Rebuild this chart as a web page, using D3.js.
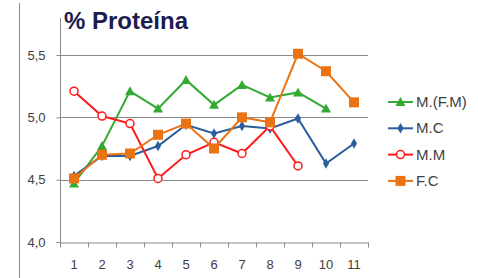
<!DOCTYPE html>
<html>
<head>
<meta charset="utf-8">
<script src="https://cdn.jsdelivr.net/npm/d3@7"></script>
<style>
  body { margin: 0; background: #fff; }
  svg { display: block; font-family: "Liberation Sans", Arial, sans-serif; }
</style>
</head>
<body>
<svg id="chart" width="478" height="278"></svg>
<script>
// categories and series
var categories = ["1", "2", "3", "4", "5", "6", "7", "8", "9", "10", "11"];
var yTicks = [4.0, 4.5, 5.0, 5.5];
var seriesNames = ["M.(F.M)", "M.C", "M.M", "F.C"];
var mfm = [4.47, 4.77, 5.21, 5.07, 5.30, 5.10, 5.26, 5.16, 5.20, 5.07];
var mc  = [4.53, 4.69, 4.69, 4.77, 4.94, 4.87, 4.93, 4.91, 4.99, 4.63, 4.79];
var mm  = [5.21, 5.01, 4.95, 4.51, 4.70, 4.80, 4.71, 4.93, 4.61];
var fc  = [4.51, 4.70, 4.71, 4.86, 4.95, 4.75, 5.00, 4.96, 5.51, 5.37, 5.12];

var colors = ["#34a934", "#2b5d9b", "#ff1a1a", "#ea7314"];
var markers = ["triangle", "diamond", "circle", "square"];
var allSeries = [mfm, mc, mm, fc];

var svg = d3.select("#chart");
var x = d3.scaleBand().domain(categories).range([60, 368]);
var y = d3.scaleLinear().domain([4.0, 5.5]).range([242, 55]);

// left border line
svg.append("line").attr("x1", 19.5).attr("x2", 19.5).attr("y1", 3).attr("y2", 278)
  .attr("stroke", "#8c8c8c").attr("stroke-width", 1);

// gridlines
svg.append("g").selectAll("line").data(yTicks.slice(1)).enter().append("line")
  .attr("x1", 60).attr("x2", 368)
  .attr("y1", function(d) { return Math.round(y(d)) + 0.5; })
  .attr("y2", function(d) { return Math.round(y(d)) + 0.5; })
  .attr("stroke", "#8a8a8a").attr("stroke-width", 1);

// y axis
var yAxis = svg.append("g").attr("transform", "translate(60.5,0)")
  .call(d3.axisLeft(y).tickValues(yTicks).tickSize(4).tickFormat(function(d) { return d3.format(".1f")(d).replace(".", ","); }));
yAxis.select(".domain").remove();
yAxis.append("line").attr("y1", 18).attr("y2", 242.5).attr("stroke", "#8a8a8a");
yAxis.selectAll(".tick line").attr("stroke", "#8a8a8a");
yAxis.selectAll(".tick text").attr("x", -15).attr("fill", "#404040").style("font-size", "13px");

// x axis
var xAxis = svg.append("g").attr("transform", "translate(0," + (Math.round(y(4.0)) + 0.5) + ")")
  .call(d3.axisBottom(x).tickSize(0).tickPadding(17));
xAxis.select(".domain").attr("stroke", "#8a8a8a");
xAxis.selectAll(".tick text").attr("fill", "#404040").style("font-size", "13px");
var edges = categories.map(function(c) { return x(c); }).concat([368]);
xAxis.selectAll("line.edge").data(edges).enter().append("line").attr("class", "edge")
  .attr("x1", function(d) { return Math.round(d) + 0.5; })
  .attr("x2", function(d) { return Math.round(d) + 0.5; })
  .attr("y1", 0).attr("y2", 5).attr("stroke", "#8a8a8a");

var line = d3.line()
  .x(function(d, i) { return x(categories[i]) + x.bandwidth() / 2; })
  .y(function(d) { return y(d); });

function drawMarker(g, type, color, cx, cy) {
  if (type === "triangle") {
    g.append("path").attr("d", "M" + cx + "," + (cy - 5) + "L" + (cx + 5) + "," + (cy + 4) + "L" + (cx - 5) + "," + (cy + 4) + "Z")
      .attr("fill", color);
  } else if (type === "diamond") {
    g.append("path").attr("d", d3.symbol().type(d3.symbolDiamond).size(32)())
      .attr("transform", "translate(" + cx + "," + cy + ")").attr("fill", color);
  } else if (type === "circle") {
    g.append("circle").attr("cx", cx).attr("cy", cy).attr("r", 4)
      .attr("fill", "#fff").attr("stroke", color).attr("stroke-width", 1.5);
  } else {
    g.append("rect").attr("x", cx - 5).attr("y", cy - 5).attr("width", 10).attr("height", 10)
      .attr("fill", color);
  }
}

allSeries.forEach(function(vals, s) {
  var g = svg.append("g");
  g.append("path").datum(vals).attr("d", line)
    .attr("fill", "none").attr("stroke", colors[s]).attr("stroke-width", 2);
  vals.forEach(function(v, i) {
    drawMarker(g, markers[s], colors[s], x(categories[i]) + x.bandwidth() / 2, y(v));
  });
});

// legend
var legend = svg.append("g");
seriesNames.forEach(function(name, s) {
  var ly = 102 + s * 26.3;
  legend.append("line").attr("x1", 388).attr("x2", 413).attr("y1", ly).attr("y2", ly)
    .attr("stroke", colors[s]).attr("stroke-width", 2);
  drawMarker(legend, markers[s], colors[s], 400.5, ly);
  legend.append("text").attr("x", 416).attr("y", ly + 5).text(name)
    .attr("fill", "#404040").style("font-size", "15px");
});

// title
svg.append("text").attr("x", 64).attr("y", 29).text("% Proteína")
  .attr("fill", "#1c1c50").style("font-size", "24px").style("font-weight", "bold");
</script>
</body>
</html>
